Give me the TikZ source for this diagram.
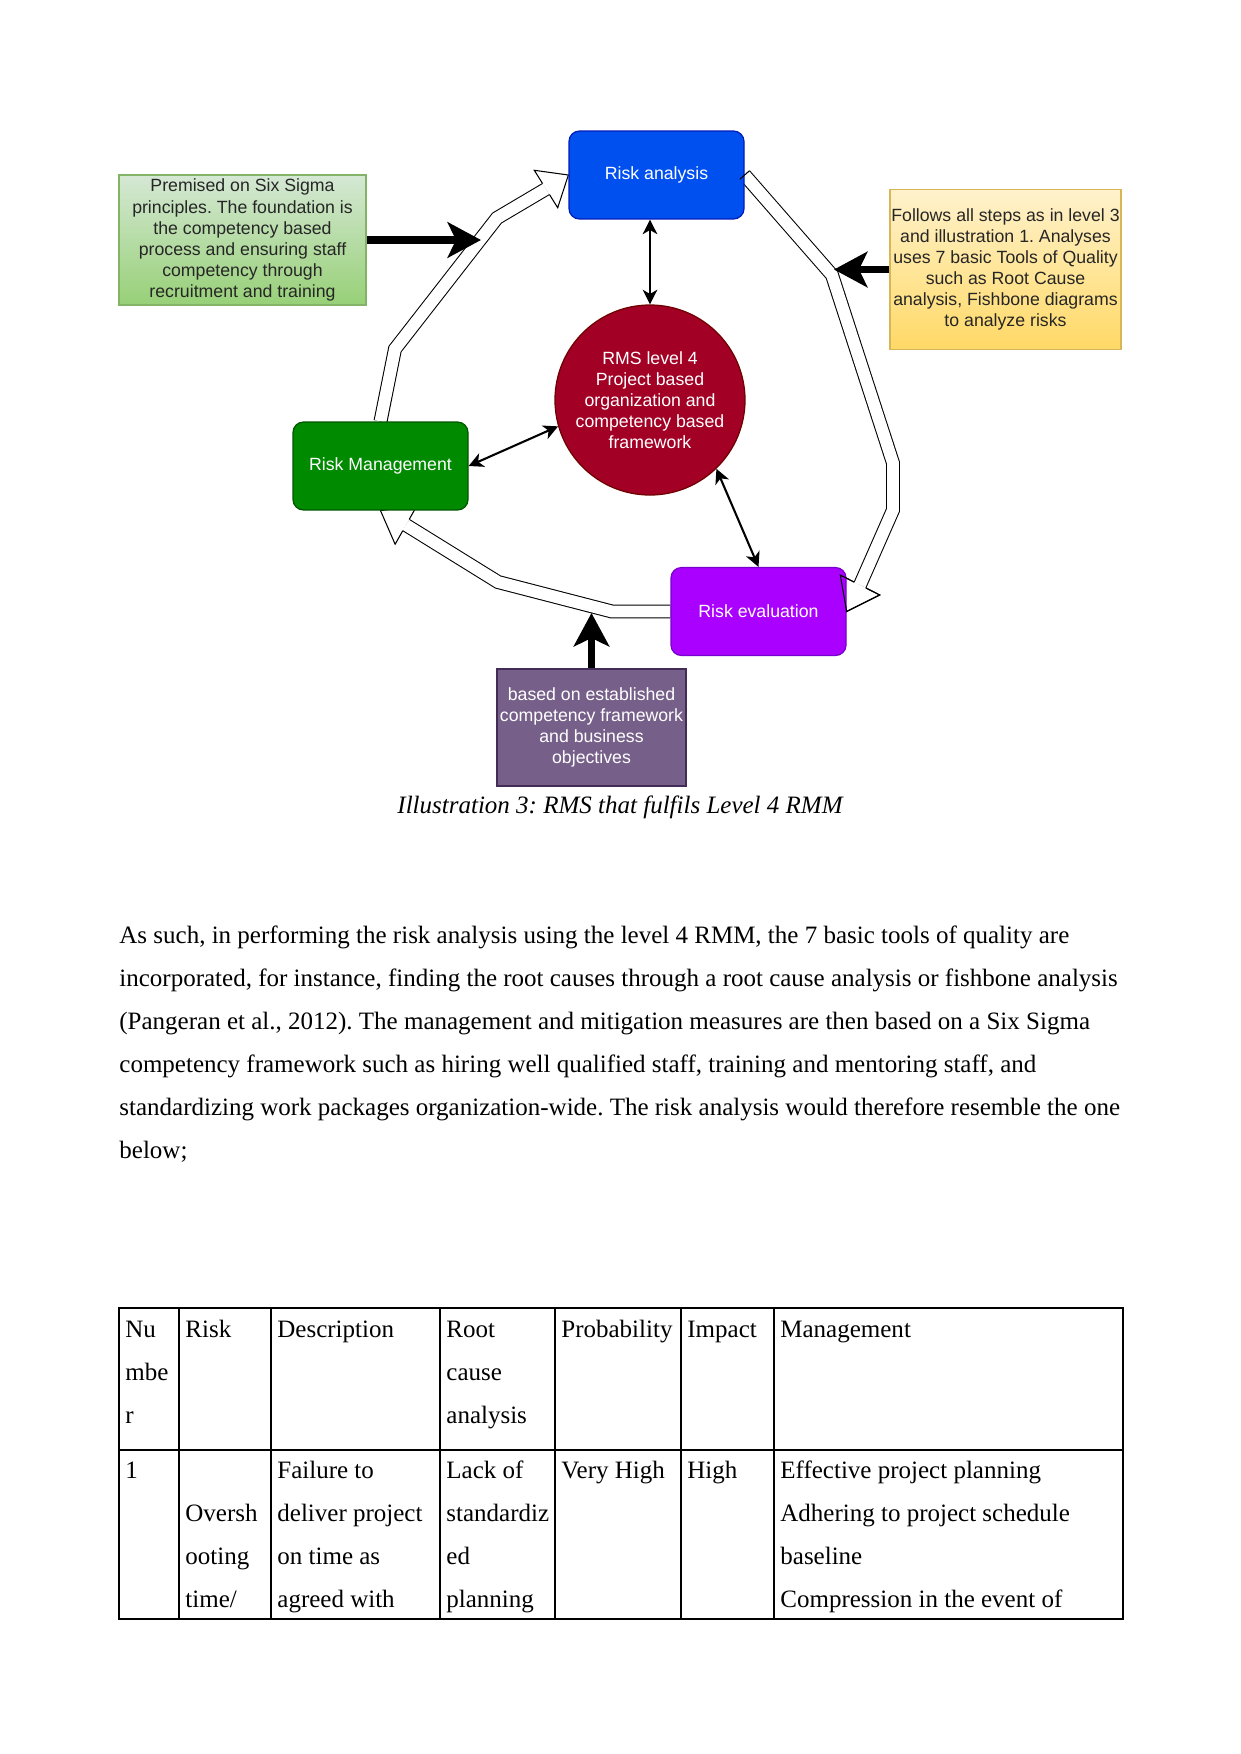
\documentclass[tikz,border=0pt]{standalone}
\usepackage{fontspec}
\setmainfont{Liberation Serif}
\newfontfamily\dsans{Liberation Sans}
\usetikzlibrary{arrows.meta,calc,backgrounds}
\frenchspacing
\definecolor{gnTop}{HTML}{D5E8D4}
\definecolor{gnBot}{HTML}{97D077}
\definecolor{gnStroke}{HTML}{82B366}
\definecolor{yTop}{HTML}{FFF2CC}
\definecolor{yBot}{HTML}{FFD966}
\definecolor{yStroke}{HTML}{D6B656}
\definecolor{raFill}{HTML}{0050EF}
\definecolor{raStroke}{HTML}{001DBC}
\definecolor{rmsFill}{HTML}{A20025}
\definecolor{rmsStroke}{HTML}{6F0000}
\definecolor{rmFill}{HTML}{008A00}
\definecolor{rmStroke}{HTML}{005700}
\definecolor{reFill}{HTML}{AA00FF}
\definecolor{reStroke}{HTML}{7700CC}
\definecolor{pnFill}{HTML}{76608A}
\definecolor{pnStroke}{HTML}{432D57}
\tikzset{
  dfont/.style={font=\dsans\frenchspacing\fontsize{8.5}{10.1}\selectfont},
  box/.style={rectangle, rounded corners=5pt, draw, line width=0.6pt, inner sep=0pt,
    minimum width=84pt, minimum height=42.2pt, dfont, text=white, align=center},
  note/.style={rectangle, draw, line width=0.6pt, inner sep=0pt, dfont, align=center},
  duo/.style={line width=1pt,
    {Stealth[length=7pt,width=7pt,inset=2pt]}-{Stealth[length=7pt,width=7pt,inset=2pt]}},
  bigarrow/.style={line width=3.4pt, -{Stealth[length=16pt,width=17pt,inset=4pt]}},
  shaft/.style={draw=black, line width=0.5pt, double=white, double distance=5.7pt, line join=miter},
  headline/.style={draw=black, line width=0.5pt, line join=miter},
  para/.style={anchor=base west, inner sep=0pt, font=\frenchspacing\fontsize{12}{14}\selectfont},
  cell/.style={para},
  tline/.style={line width=0.6pt},
}
\newcommand\flexhead[3][white]{%
  \path[headline, fill=#1] ($(#2)!3.1pt!90:(#3)$) -- ($(#2)!10.6pt!90:(#3)$) -- (#3)
     -- ($(#2)!10.6pt!-90:(#3)$) -- ($(#2)!3.1pt!-90:(#3)$);}
\newcommand\celltext[4]{\node[cell] (#1) at (#2,#3) {#4};}
\begin{document}
\begin{tikzpicture}[x=0.48pt,y=-0.48pt]
\useasboundingbox (0,0) rectangle (1241,1754);

% ---------- diagram nodes ----------
\node[note, top color=gnTop, bottom color=gnBot, draw=gnStroke,
      minimum width=118.6pt, minimum height=62.4pt, text=black!85] (gn) at (242.5,240)
  {Premised on Six Sigma\\principles. The foundation is\\the competency based\\process and ensuring staff\\competency through\\recruitment and training};
\node[box, fill=raFill, draw=raStroke] (RA) at (656.5,175) {Risk analysis};
\node[note, top color=yTop, bottom color=yBot, draw=yStroke,
      minimum width=110.9pt, minimum height=76.8pt, text=black!85] (yn) at (1005.5,269.5)
  {Follows all steps as in level 3\\and illustration 1. Analyses\\uses 7 basic Tools of Quality\\such as Root Cause\\analysis, Fishbone diagrams\\to analyze risks};
\node[circle, draw=rmsStroke, fill=rmsFill, line width=0.6pt, minimum size=91.2pt, inner sep=0pt,
      dfont, text=white, align=center] (RMS) at (650,400)
  {RMS level 4\\Project based\\organization and\\competency based\\framework};
\node[box, fill=rmFill, draw=rmStroke] (RM) at (380.5,466) {Risk Management};
\node[box, fill=reFill, draw=reStroke] (RE) at (758.5,611.5) {Risk evaluation};
\node[note, fill=pnFill, draw=pnStroke, minimum width=90.7pt, minimum height=56.2pt,
      text=white] (pn) at (591.5,727.5)
  {based on established\\competency framework\\and business\\objectives};

% ---------- hollow cycle arrows ----------
\coordinate (h1a) at (395,349);
\coordinate (h1b) at (497,218);
\coordinate (h1c) at (546,189);
\coordinate (h2a) at (832,275);
\coordinate (h2b) at (893,463);
\coordinate (h2c) at (893,510);
\coordinate (h2d) at (860,585);
\coordinate (h3a) at (612,611.5);
\coordinate (h3b) at (498,582);
\coordinate (h3c) at (406,525);
\begin{pgfonlayer}{background}
  \draw[shaft] (RM.north) -- (h1a) -- (h1b) -- (h1c);
  \flexhead{h1c}{RA.west}
  \draw[shaft] (RA.east) -- (h2a) -- (h2b) -- (h2c) -- (h2d);
  \flexhead{h2d}{RE.east}
  \draw[shaft] (RE.west) -- (h3a) -- (h3b) -- (h3c);
  \flexhead{h3c}{RM.south}
\end{pgfonlayer}
\flexhead[none]{h2d}{RE.east}
\draw[headline] ($(RA.east)!3.1pt!90:(h2a)$) -- ($(RA.east)!3.1pt!-90:(h2a)$);

% ---------- thin double arrows ----------
\draw[duo] (RA.south -| RMS.north) -- (RMS.north);
\draw[duo] (RM.east) -- (RMS.196);
\draw[duo] (RMS.314) -- (RE.north);

% ---------- thick black arrows ----------
\coordinate (ta) at (481,240);
\coordinate (tb) at (834,269.5);
\coordinate (tc) at (591.5,613);
\draw[bigarrow] (gn.east) -- (ta);
\draw[bigarrow] (yn.west) -- (tb);
\draw[bigarrow] (pn.north) -- (tc);

% ---------- caption ----------
\node[anchor=base, inner sep=0pt, font=\frenchspacing\itshape\fontsize{12}{14}\selectfont] (cap) at (620,813)
  {Illustration 3: RMS that fulfils Level 4 RMM};

% ---------- paragraph ----------
\foreach \t [count=\i] in {%
  {As such, in performing the risk analysis using the level 4 RMM, the 7 basic tools of quality are},%
  {incorporated, for instance, finding the root causes through a root cause analysis or fishbone analysis},%
  {(Pangeran et al., 2012). The management and mitigation measures are then based on a Six Sigma},%
  {competency framework such as hiring well qualified staff, training and mentoring staff, and},%
  {standardizing work packages organization-wide. The risk analysis would therefore resemble the one},%
  {below;}}
  \node[para] (par\i) at (119,{943+43*(\i-1)}) {\t};

% ---------- table ----------
\draw[tline] (119,1308) rectangle (1123,1619);
\draw[tline] (119,1450) -- (1123,1450);
\foreach \x in {179,271,440,555,681,774} \draw[tline] (\x,1308) -- (\x,1619);

\celltext{hNu1}{125}{1337}{Nu}
\celltext{hNu2}{125}{1380}{mbe}
\celltext{hNu3}{125}{1423}{r}
\celltext{hRisk}{185}{1337}{Risk}
\celltext{hDesc}{277}{1337}{Description}
\celltext{hRoot1}{446}{1337}{Root}
\celltext{hRoot2}{446}{1380}{cause}
\celltext{hRoot3}{446}{1423}{analysis}
\celltext{hProb}{561}{1337}{Probability}
\celltext{hImp}{687}{1337}{Impact}
\celltext{hMan}{780}{1337}{Management}

\celltext{rNum}{125}{1478}{1}
\celltext{rRisk1}{185}{1521}{Oversh}
\celltext{rRisk2}{185}{1564}{ooting}
\celltext{rRisk3}{185}{1607}{time/}
\celltext{rDesc1}{277}{1478}{Failure to}
\celltext{rDesc2}{277}{1521}{deliver project}
\celltext{rDesc3}{277}{1564}{on time as}
\celltext{rDesc4}{277}{1607}{agreed with}
\celltext{rRoot1}{446}{1478}{Lack of}
\celltext{rRoot2}{446}{1521}{standardiz}
\celltext{rRoot3}{446}{1564}{ed}
\celltext{rRoot4}{446}{1607}{planning}
\celltext{rProb}{561}{1478}{Very High}
\celltext{rImp}{687}{1478}{High}
\celltext{rMan1}{780}{1478}{Effective project planning}
\celltext{rMan2}{780}{1521}{Adhering to project schedule}
\celltext{rMan3}{780}{1564}{baseline}
\celltext{rMan4}{780}{1607}{Compression in the event of}
\end{tikzpicture}
\end{document}
